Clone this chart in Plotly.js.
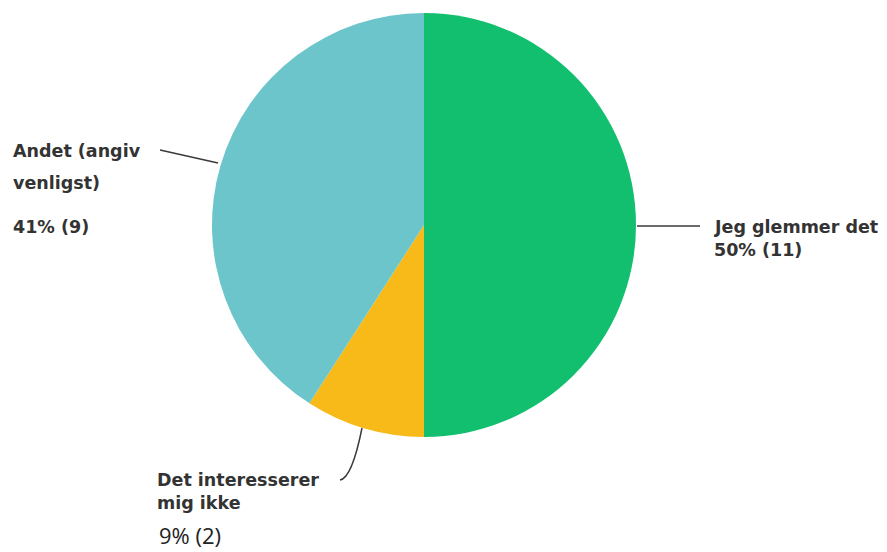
<!DOCTYPE html>
<html><head><meta charset="utf-8">
<script src="https://cdn.plot.ly/plotly-3.0.1.min.js"></script>
<style>html,body{margin:0;padding:0;background:#fff}#c{width:887px;height:552px}</style>
</head><body><div id="c"></div>
<script>
const categories = ["Jeg glemmer det", "Det interesserer mig ikke", "Andet (angiv venligst)"];
const counts = [11, 2, 9];
const percentLabels = ["50% (11)", "9% (2)", "41% (9)"];
const colors = ["#12BF6E", "#F7BA19", "#6CC5CB"];

const W = 887, H = 552;
const px = x => x / W, py = y => 1 - y / H;
const bold = {family: "DejaVu Sans", size: 17.5, color: "#333333", weight: "bold"};
function ann(text, x, y, font) {
  return {text: text, x: px(x), y: py(y), xref: "paper", yref: "paper", xanchor: "left", yanchor: "middle", showarrow: false, font: font};
}
const annotations = [
  ann("Andet (angiv", 11, 151, bold),
  ann("venligst)", 11, 183, bold),
  ann(percentLabels[2], 11, 227, bold),
  ann(categories[0], 712, 227, bold),
  ann(percentLabels[0], 712, 250, bold),
  ann("Det interesserer", 155, 480, bold),
  ann("mig ikke", 155, 503, bold),
  ann(percentLabels[1], 157, 535, {family: "Open Sans", size: 22, color: "#222222"})
];
const line = {color: "#3a3a3a", width: 1.5};
const shapes = [
  {type: "line", xref: "paper", yref: "paper", x0: px(160), y0: py(150), x1: px(218), y1: py(163), line: line},
  {type: "line", xref: "paper", yref: "paper", x0: px(637), y0: py(226), x1: px(700), y1: py(226), line: line},
  {type: "path", xref: "paper", yref: "paper",
   path: `M ${px(362)} ${py(428)} Q ${px(352)} ${py(478)} ${px(340)} ${py(480)}`, line: line}
];

Plotly.newPlot("c", [{
  type: "pie",
  labels: categories,
  values: counts,
  sort: false,
  direction: "clockwise",
  rotation: 0,
  marker: {colors: colors, line: {width: 0}},
  textinfo: "none",
  hoverinfo: "label+value+percent",
  domain: {x: [px(212), px(636)], y: [py(437), py(13)]}
}], {
  width: W, height: H,
  margin: {l: 0, r: 0, t: 0, b: 0},
  showlegend: false,
  paper_bgcolor: "#ffffff",
  annotations: annotations,
  shapes: shapes
}, {displayModeBar: false, staticPlot: true});
</script></body></html>
